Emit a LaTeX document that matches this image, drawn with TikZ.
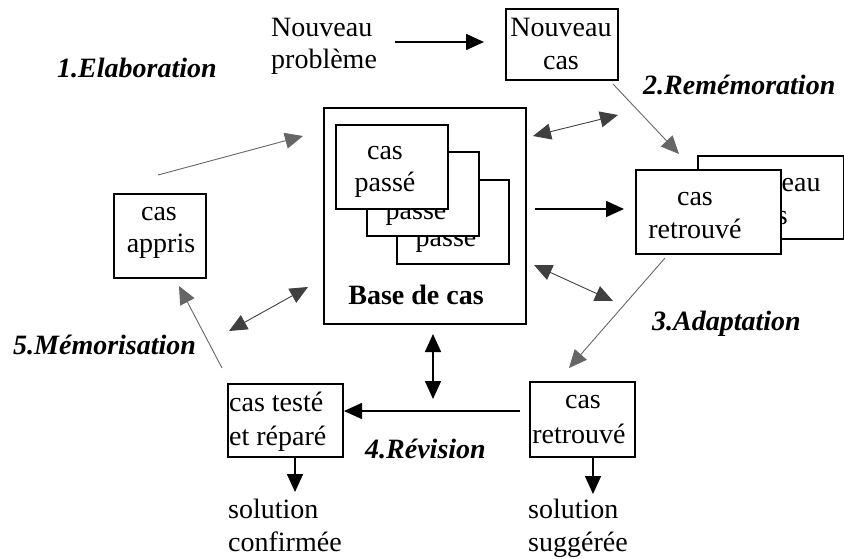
\documentclass[tikz,border=0pt]{standalone}
\usepackage{fontspec}
\setmainfont{Liberation Serif}
\usetikzlibrary{arrows.meta}
\begin{document}
\begin{tikzpicture}[x=1pt,y=-1pt,
  box/.style={draw, line width=1.6pt, fill=white, inner sep=0pt, anchor=north west},
  txt/.style={anchor=base, inner sep=0pt, font=\fontsize{28}{34}\selectfont},
  txtl/.style={anchor=base west, inner sep=0pt, font=\fontsize{28}{34}\selectfont},
  lbl/.style={anchor=base west, inner sep=0pt, font=\fontsize{28}{34}\selectfont\bfseries\itshape},
  thick arrow/.style={line width=1.6pt, -{Triangle[length=18pt,width=16pt]}},
  thin arrow/.style={line width=0.9pt, draw=black!60, -{Triangle[length=18pt,width=16pt]}},
  dbl arrow/.style={line width=0.9pt, draw=black!75, {Triangle[length=18pt,width=16pt]}-{Triangle[length=18pt,width=16pt]}},
  vdbl arrow/.style={line width=1.6pt, {Triangle[length=18pt,width=16pt]}-{Triangle[length=18pt,width=16pt]}}
]
\useasboundingbox (0,0) rectangle (844,559);

% texts outside boxes
\node[txtl] (np1) at (271,37) {Nouveau};
\node[txtl] (np2) at (271,69) {problème};
\node[lbl] (l1) at (57,78) {1.Elaboration};
\node[lbl] (l2) at (643,95) {2.Remémoration};
\node[lbl] (l3) at (652,330) {3.Adaptation};
\node[lbl] (l4) at (365,458) {4.Révision};
\node[lbl] (l5) at (13,354) {5.Mémorisation};

% Nouveau cas
\node[box, minimum width=112pt, minimum height=71pt] (nc) at (505,8) {};
\node[txt] (nct1) at (561,37) {Nouveau};
\node[txt] (nct2) at (561,70) {cas};

% Base de cas
\node[box, minimum width=202pt, minimum height=216pt] (base) at (323,107) {};
\node[txt, font=\fontsize{28}{34}\selectfont\bfseries] (baset) at (416,304) {Base de cas};
\node[box, minimum width=112pt, minimum height=84pt] (p3) at (396,179) {};
\node[txt] (p3a) at (446,215) {cas};
\node[txt] (p3b) at (446,247) {passé};
\node[box, minimum width=112pt, minimum height=84pt] (p2) at (366,151) {};
\node[txt] (p2a) at (416,187) {cas};
\node[txt] (p2b) at (416,219) {passé};
\node[box, minimum width=112pt, minimum height=84pt] (p1) at (335,124) {};
\node[txt] (p1a) at (385,160) {cas};
\node[txt] (p1b) at (385,192) {passé};

% cas retrouve (upper) with Nouveau cas behind
\node[box, minimum width=146pt, minimum height=83pt] (retB) at (697,155) {};
\node[txt] (rb1) at (770,192) {Nouveau};
\node[txt] (rb2) at (770,224) {cas};
\node[box, minimum width=145pt, minimum height=84pt] (retF) at (635,169) {};
\node[txt] (rf1) at (695,205) {cas};
\node[txt] (rf2) at (695,238) {retrouvé};

% cas appris
\node[box, minimum width=92pt, minimum height=84pt] (app) at (113,193) {};
\node[txt] (ap1) at (159,220) {cas};
\node[txt] (ap2) at (161,252) {appris};

% cas retrouve (lower)
\node[box, minimum width=105pt, minimum height=75pt] (ret2) at (529,381) {};
\node[txt] (r21) at (583,408) {cas};
\node[txt] (r22) at (579,443) {retrouvé};
\node[txtl] (ss1) at (528,518) {solution};
\node[txtl] (ss2) at (528,551) {suggérée};

% cas teste et repare
\node[box, minimum width=115pt, minimum height=73pt] (tst) at (227,383) {};
\node[txtl] (t1) at (229,411) {cas testé};
\node[txtl] (t2) at (229,445) {et réparé};
\node[txtl] (sc1) at (228,518) {solution};
\node[txtl] (sc2) at (228,551) {confirmée};

% connector end points
\coordinate (a1) at (395,42);   \coordinate (a2) at (484,42);
\coordinate (b1) at (613,84);   \coordinate (b2) at (679,154);
\coordinate (c1) at (533,136);  \coordinate (c2) at (618,115);
\coordinate (d1) at (535,209);  \coordinate (d2) at (624,209);
\coordinate (e1) at (534,265);  \coordinate (e2) at (613,301);
\coordinate (f1) at (665,258);  \coordinate (f2) at (569,368);
\coordinate (g1) at (433,334);  \coordinate (g2) at (433,399);
\coordinate (h1) at (520,411);  \coordinate (h2) at (344,411);
\coordinate (i1) at (295,456);  \coordinate (i2) at (295,492);
\coordinate (j1) at (593,456);  \coordinate (j2) at (593,494);
\coordinate (k1) at (222,368);  \coordinate (k2) at (179,286);
\coordinate (m1) at (229,331);  \coordinate (m2) at (308,287);
\coordinate (n1) at (158,175);  \coordinate (n2) at (303,136);

\draw[thick arrow] (a1) -- (a2);
\draw[thin arrow] (b1) -- (b2);
\draw[dbl arrow] (c1) -- (c2);
\draw[thick arrow] (d1) -- (d2);
\draw[dbl arrow] (e1) -- (e2);
\draw[thin arrow] (f1) -- (f2);
\draw[vdbl arrow] (g1) -- (g2);
\draw[thick arrow] (h1) -- (h2);
\draw[thick arrow] (i1) -- (i2);
\draw[thick arrow] (j1) -- (j2);
\draw[thin arrow] (k1) -- (k2);
\draw[dbl arrow] (m1) -- (m2);
\draw[thin arrow] (n1) -- (n2);
\end{tikzpicture}
\end{document}
